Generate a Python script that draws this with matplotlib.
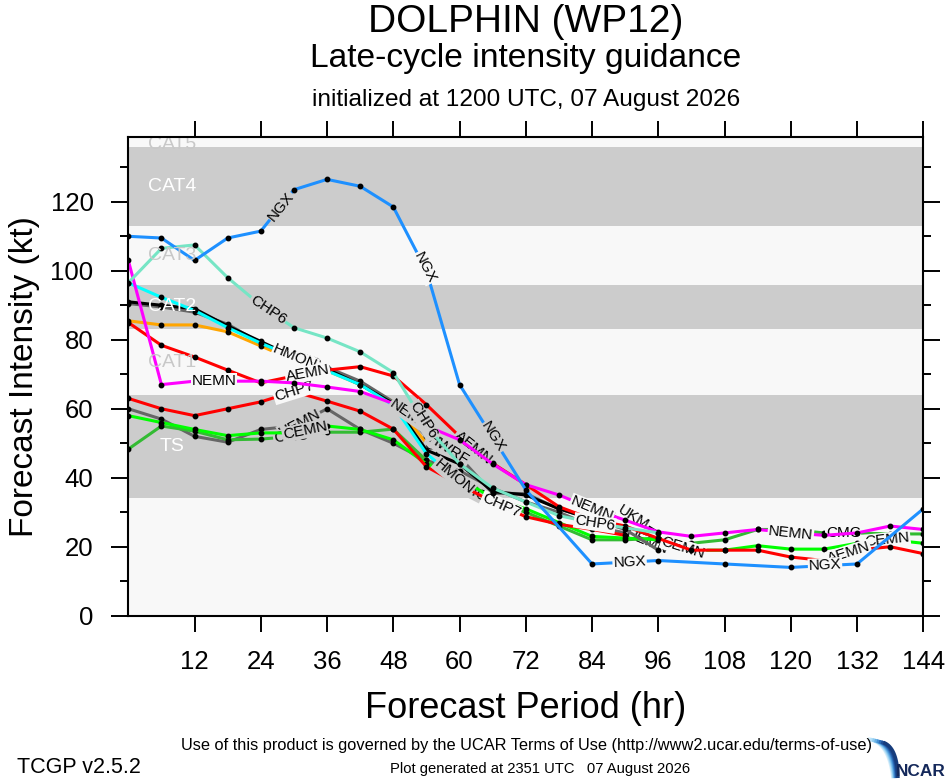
import numpy as np
import matplotlib
matplotlib.use("Agg")
import matplotlib.pyplot as plt

plt.rcParams['font.family'] = ['Liberation Sans', 'DejaVu Sans']

# ---------------- data ----------------
hours = list(range(0, 145, 6))
N = np.nan

ngx  = [110, 109.5, 103, 109.5, 111.5, 123.5, 126.5, 124.5, 118.5, 100, 67, N, 36.5, N, 15, N, 16, N, 15, N, 14, N, 15, N, 31]
chp6 = [96.5, 106.5, 107.5, 98, 90, 83.5, 80.5, 76.5, 70.5, 55, 44, 37, 33, 29, 27, 25.5, 24, N, N, N, N, N, N, N, N]
hmon = [96.5, 92.3, 88.5, 83.5, 79, 75, 71, 67, 61, 47, 39, N, N, N, N, N, N, N, N, N, N, N, N, N, N]
ukm  = [91, 90, 89, 84, 79.5, 75, 71.5, 67, 61.5, 48, 44, 36, 35, 31, 28, 30, 24, N, N, N, N, N, N, N, N]
hwrf = [90.5, 89.5, 88, 84.5, 79, 75, 72, 68, 62, 52, 46, 35.5, 35.4, 31, 28, 25, 19, N, N, N, N, N, N, N, N]
ctcx = [85.5, 84.3, 84.3, 82.3, 78.2, 74, 71, 67, 62, 50, 45, N, N, N, N, N, N, N, N, N, N, N, N, N, N]
aemn = [85, 78.4, 75, 71.2, 67.5, 69.5, 71.2, 72.2, 69.5, 61.2, 52, 44.2, 38, 31.6, 28, 26, 22.4, 19, 19, 19, 17, 16, 19, 20, 18]
chp7 = [63, 60, 58, 60, 62, 65, 62.2, 59.3, 54.1, 43.2, 38, 33, 28.7, 26.5, 25, 23.3, N, N, N, N, N, N, N, N, N]
nemn = [103, 67, 68, 68, 68, 67.5, 66.3, 65, 61.5, 55, 51, 44, 38, 35, 31, 27.7, 24.3, 23, 24, 25, 24, 23.3, 24, 26, 25]
cemn = [58, 56, 54, 52.2, 53, 53, 55, 54, 51, 44, 40, 34, 31, 27, 23, 22.5, 22, 19, 19, 20.3, 19.3, 19.3, 21, 22, 21]
cmc  = [48.3, 55, 53.5, 51, 51.2, 52, 53.2, 53.2, 54.1, 45, 38, 33, 30, 26, 22, 22, 22.5, 21, 22, 25, 25, 24, 24, 23.7, 23.7]
uemn = [60, 57, 52, 50.3, 54, 55, 60, 54, 50, 45, 42, 37, 33, 30, 26, 24, 20, N, N, N, N, N, N, N, N]

# drawing order: (name, colour, values)
models = [
    ("UEMN", "#666666", uemn),
    ("CMC",  "#33BB33", cmc),
    ("CEMN", "#00FF00", cemn),
    ("CHP7", "#FF0000", chp7),
    ("CTCX", "#FFA500", ctcx),
    ("HWRF", "#666666", hwrf),
    ("UKM",  "#000000", ukm),
    ("HMON", "#00FFFF", hmon),
    ("AEMN", "#FF0000", aemn),
    ("NEMN", "#FF00FF", nemn),
    ("CHP6", "#76E5C5", chp6),
    ("NGX",  "#1E90FF", ngx),
]

# inline labels: (model, hour position, text)
line_labels = [
    ("NGX", 27.6, "NGX"), ("NGX", 53.7, "NGX"), ("NGX", 66, "NGX"),
    ("NGX", 90.8, "NGX"), ("NGX", 126.2, "NGX"),
    ("CHP6", 25.3, "CHP6"), ("CHP6", 53.4, "CHP6"), ("CHP6", 84.5, "CHP6"),
    ("NEMN", 15.5, "NEMN"), ("NEMN", 51, "NEMN"), ("NEMN", 84, "NEMN"), ("NEMN", 120, "NEMN"),
    ("AEMN", 32.5, "AEMN"), ("AEMN", 62.5, "AEMN"), ("AEMN", 130.5, "AEMN"),
    ("CHP7", 30, "CHP7"), ("CHP7", 67.5, "CHP7"),
    ("CMC", 29.5, "CMC"), ("CMC", 62, "CMC"), ("CMC", 129.5, "CMC"),
    ("CEMN", 32, "CEMN"), ("CEMN", 100.5, "CEMN"), ("CEMN", 137.5, "CEMN"),
    ("UEMN", 31, "UEMN"), ("UEMN", 94, "UEMN"),
    ("HWRF", 30.5, "HWRF"), ("HWRF", 58, "HWRF"),
    ("CTCX", 29.8, "CTCX"), ("CTCX", 57, "CTCX"),
    ("HMON", 30.2, "HMON"), ("HMON", 59, "HMON"),
    ("UKM", 31, "COTC"), ("UKM", 91.5, "UKM"),
]

band_edges = [0, 34, 64, 83, 96, 113, 136, 200]
band_names = ["", "TS", "CAT1", "CAT2", "CAT3", "CAT4", "CAT5"]
x_ticks = list(range(12, 145, 12))
y_ticks = list(range(0, 121, 20))

LIGHT = "#F8F8F8"
GRAY = "#CCCCCC"

# ---------------- figure ----------------
W, H = 946, 780
fig = plt.figure(figsize=(W / 100, H / 100), dpi=100)
fig.patch.set_facecolor("white")

L, R, T, B = 128.3, 923.3, 137.3, 615.7
ax = fig.add_axes([L / W, 1 - B / H, (R - L) / W, (B - T) / H])
YMAX = 138.7
ax.set_xlim(0, 144)
ax.set_ylim(0, YMAX)

band_cols = []
for i in range(len(band_edges) - 1):
    c = GRAY if i % 2 == 1 else LIGHT
    band_cols.append(c)
    ax.axhspan(band_edges[i], band_edges[i + 1], color=c, lw=0, zorder=0)
    if band_names[i]:
        yc = (band_edges[i] + band_edges[i + 1]) / 2 if band_edges[i + 1] < YMAX else band_edges[i] + 0.6
        ax.text(8, yc, band_names[i], color=("white" if c == GRAY else "#C8C8C8"),
                fontsize=14, ha="center", va="center", zorder=40, clip_on=True)


def band_color(y):
    for i in range(len(band_edges) - 1):
        if band_edges[i] <= y < band_edges[i + 1]:
            return band_cols[i]
    return LIGHT


hx_all = np.array(hours, dtype=float)
zmap = {}
for k, (name, col, vals) in enumerate(models):
    v = np.array(vals, dtype=float)
    m = np.isfinite(v)
    z = 2 + k
    zmap[name] = (z, hx_all[m], v[m])
    ax.plot(hx_all[m], v[m], color=col, lw=2.2, zorder=z, solid_capstyle="round")
    ax.plot(hx_all[m], v[m], ls="none", marker="o", ms=3.2, color="black", zorder=z + 0.2)

for name, hr, txt in line_labels:
    z, hx, hy = zmap[name]
    y = float(np.interp(hr, hx, hy))
    i = int(np.clip(np.searchsorted(hx, hr), 1, len(hx) - 1))
    p0 = ax.transData.transform((hx[i - 1], hy[i - 1]))
    p1 = ax.transData.transform((hx[i], hy[i]))
    ang = np.degrees(np.arctan2(p1[1] - p0[1], p1[0] - p0[0]))
    ax.text(hr, y, txt, rotation=ang, rotation_mode="anchor", ha="center", va="center",
            fontsize=11, color="black", zorder=z + 0.5,
            bbox=dict(boxstyle="square,pad=0.05", fc=band_color(y), ec="none"))

# axes styling
for s in ax.spines.values():
    s.set_linewidth(1.5)
    s.set_zorder(50)
ax.set_xticks(x_ticks)
ax.set_xticklabels([str(t) for t in x_ticks])
ax.set_yticks(y_ticks)
ax.set_yticks(list(range(10, 131, 20)), minor=True)
ax.tick_params(axis="x", which="major", direction="out", length=11.5, width=1.4,
               top=True, labelsize=18.5, pad=13)
ax.tick_params(axis="y", which="major", direction="out", length=12, width=1.4,
               right=True, labelsize=18.5, pad=13)
ax.tick_params(axis="y", which="minor", direction="out", length=6, width=1.4, right=True)

# titles
cx = (L + R) / 2 / W
fig.text(cx, 1 - 31.7 / H, "DOLPHIN (WP12)", fontsize=28, ha="center", va="baseline")
fig.text(cx, 1 - 66.7 / H, "Late-cycle intensity guidance", fontsize=24.2, ha="center", va="baseline")
fig.text(cx, 1 - 106 / H, "initialized at 1200 UTC, 07 August 2026", fontsize=17.6, ha="center", va="baseline")

fig.text(25 / W, 1 - (T + B) / 2 / H, "Forecast Intensity (kt)", fontsize=24, rotation=90,
         ha="center", va="center")
fig.text(cx, 1 - 718 / H, "Forecast Period (hr)", fontsize=26, ha="center", va="baseline")

# footer
narrow = ["Liberation Sans Narrow", "Liberation Sans", "DejaVu Sans"]
t1 = fig.text(526.5 / W, 1 - 750 / H,
              "Use of this product is governed by the UCAR Terms of Use (http://www2.ucar.edu/terms-of-use)",
              fontsize=12, ha="center", va="baseline", family=narrow)
t2 = fig.text(17 / W, 1 - 773 / H, "TCGP v2.5.2", fontsize=17, ha="left", va="baseline", family=narrow)
t3 = fig.text(540.5 / W, 1 - 772.7 / H, "Plot generated at 2351 UTC   07 August 2026",
              fontsize=11, ha="center", va="baseline", family=narrow)

# NCAR logo
lax = fig.add_axes([862 / W, 0, 84 / W, 48 / H])
lax.set_xlim(862, 946)
lax.set_ylim(780, 732)
lax.axis("off")
tt = np.linspace(0, 1, 40)
cols = ["#D6EEFB", "#B4DFF7", "#8FCBF1", "#67B1E6", "#4690D3", "#2C6DB8", "#1D4E98", "#163C7C"]
for k, c in enumerate(cols):
    x0, y0 = 868 + k * 2.2, 739 + k * 0.5
    xc, yc = 889 + k * 1.2, 742 + k * 0.8
    x1, y1 = 893 + k * 0.7, 778
    bx = (1 - tt) ** 2 * x0 + 2 * (1 - tt) * tt * xc + tt ** 2 * x1
    by = (1 - tt) ** 2 * y0 + 2 * (1 - tt) * tt * yc + tt ** 2 * y1
    lax.plot(bx, by, color=c, lw=2.6, solid_capstyle="butt")
t4 = lax.text(896, 776, "NCAR", fontsize=15, color="#14285A", fontweight="bold",
              ha="left", va="baseline", family=narrow)

fig.canvas.draw()
r = fig.canvas.get_renderer()
for t, target in [(t1, 692), (t2, 124), (t3, 298), (t4, 50)]:
    w = t.get_window_extent(r).width
    t.set_fontsize(t.get_fontsize() * target / w)

fig.savefig("out.png", dpi=100)
